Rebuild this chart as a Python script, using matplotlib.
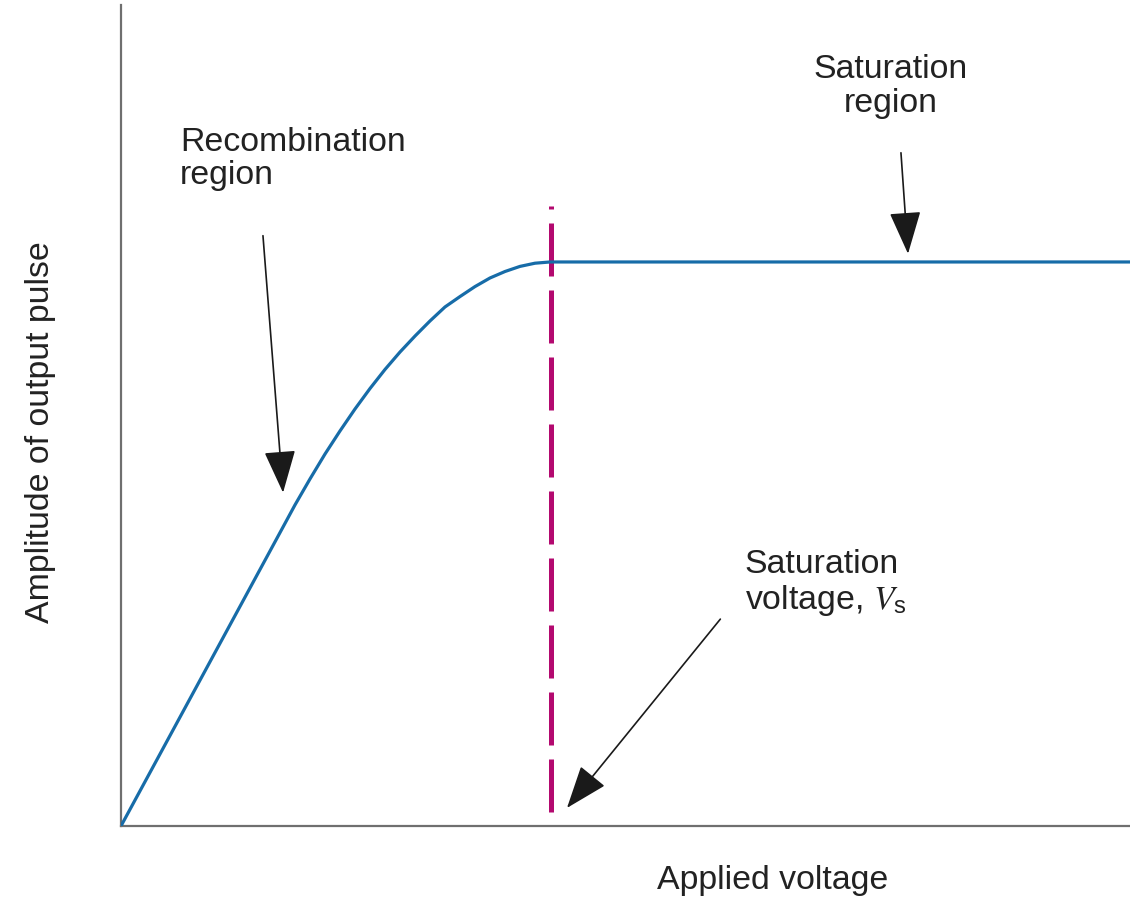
import numpy as np
import matplotlib.pyplot as plt

plt.rcParams['font.family'] = ['Liberation Sans', 'DejaVu Sans']
plt.rcParams['mathtext.fontset'] = 'stix'

# curve (x: applied voltage, y: pulse amplitude, arbitrary units)
volt = [0, 16.06, 17.24, 18.73, 20.22, 21.70, 23.19, 24.68, 26.16, 27.65, 29.14,
        30.62, 32.11, 33.60, 35.08, 36.57, 38.06, 39.54, 41.03, 42.52, 100]
amp = [0, 36.42, 39.10, 42.27, 45.31, 48.11, 50.79, 53.29, 55.60, 57.73, 59.68,
       61.51, 63.22, 64.49, 65.70, 66.75, 67.54, 68.16, 68.55, 68.70, 68.70]
v_sat = 42.6
line_top = 75.5
line_bottom = 1.7

fig = plt.figure(figsize=(11.3, 8.97), dpi=100)
ax = fig.add_axes([121 / 1130, 71 / 897, 1009 / 1130, 821 / 897])
ax.set_xlim(0, 100)
ax.set_ylim(0, 100)

ax.plot(volt, amp, color='#176ca8', lw=2.3, solid_capstyle='round',
        solid_joinstyle='round', zorder=3)
ax.plot([v_sat, v_sat], [line_bottom, line_top], color='#b3096f', lw=3.6,
        dashes=(10.6, 2.8), solid_capstyle='butt', zorder=2)

for s in ['top', 'right']:
    ax.spines[s].set_visible(False)
for s in ['left', 'bottom']:
    ax.spines[s].set_color('#6f6f6f')
    ax.spines[s].set_linewidth(1.6)
ax.set_xticks([])
ax.set_yticks([])

arrow = dict(arrowstyle='-|>,head_length=2.7,head_width=1.0', color='#1a1a1a', lw=1.2,
             shrinkA=0, shrinkB=0)
ax.annotate('', xy=(16.06, 40.6), xytext=(14.07, 71.9), arrowprops=arrow)
ax.annotate('', xy=(78.0, 69.7), xytext=(77.3, 82.0), arrowprops=arrow)
ax.annotate('', xy=(44.2, 2.2), xytext=(59.4, 25.2), arrowprops=arrow)

fs = 24.4
ax.text(5.85, 85.2, 'Recombination\nregion', fontsize=fs, va='top', ha='left',
        linespacing=1.12, color='#222222')
ax.text(76.3, 94.0, 'Saturation\nregion', fontsize=fs, va='top', ha='center',
        linespacing=1.12, color='#222222')
ax.text(61.8, 33.8, 'Saturation\nvoltage, $V_{\\mathregular{s}}$', fontsize=fs, va='top', ha='left',
        linespacing=1.12, color='#222222')
ax.text(64.6, -6.6, 'Applied voltage', fontsize=fs, va='center', ha='center',
        color='#222222', clip_on=False)
ax.text(-8.0, 48.0, 'Amplitude of output pulse', fontsize=fs, va='center', ha='center',
        rotation=90, color='#222222', clip_on=False)

fig.savefig('out.png', dpi=100)
